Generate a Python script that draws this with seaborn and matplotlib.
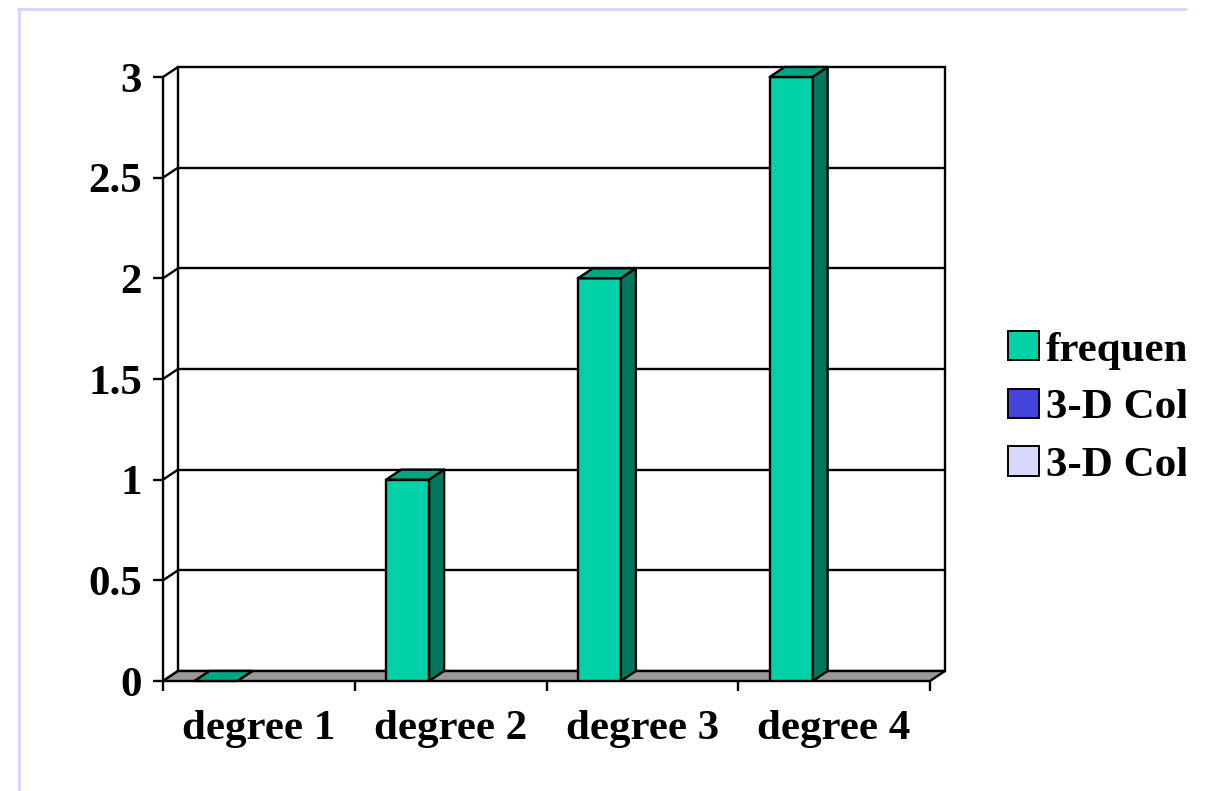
import numpy as np
import pandas as pd
import seaborn as sns
import matplotlib
matplotlib.use("Agg")
import matplotlib.pyplot as plt
from matplotlib.patches import Polygon, Rectangle, Patch
from matplotlib.lines import Line2D
from matplotlib.transforms import Bbox, TransformedBbox

# ---- data -------------------------------------------------------------
categories = ["degree 1", "degree 2", "degree 3", "degree 4"]
series_names = ["frequency", "3-D Column 2", "3-D Column 3"]
frequency = [0, 1, 2, 3]
y_ticks = [0, 0.5, 1, 1.5, 2, 2.5, 3]
y_tick_labels = ["0", "0.5", "1", "1.5", "2", "2.5", "3"]

# ---- style ------------------------------------------------------------
front_colors = ["#00D1A7", "#4444DD", "#D9D9FF"]
top_color = "#00A584"
side_color = "#00775D"
floor_color = "#999999"
frame_color = "#D6D6FA"
LW = 1.7

sns.set_style("white")
plt.rcParams["font.family"] = ["Liberation Serif", "DejaVu Serif"]
plt.rcParams["font.weight"] = "bold"
plt.rcParams["text.color"] = "black"
plt.rcParams["xtick.color"] = "black"
plt.rcParams["ytick.color"] = "black"
FS = 31

W, H = 1209, 791
fig = plt.figure(figsize=(W / 100, H / 100), dpi=100)
fig.patch.set_facecolor("white")
ax = fig.add_axes([163 / W, 1 - 681 / H, 767 / W, 604 / H])
ax.patch.set_alpha(0)

df = pd.DataFrame({"degree": categories, "value": frequency,
                   "series": series_names[0]})
sns.barplot(data=df, x="degree", y="value", hue="series",
            order=categories, hue_order=series_names,
            palette=dict(zip(series_names, front_colors)), saturation=1,
            width=129 / 191.75, dodge=True, errorbar=None,
            edgecolor="black", linewidth=LW, legend=False, ax=ax, zorder=3)

ax.set_xlim(-0.5, 3.5)
ax.set_ylim(0, 3)
ax.set_xlabel("")
ax.set_ylabel("")

# depth of the 3-D box, expressed in data units
DX = 15 / (767 / 4)
DY = 10 / (604 / 3)
x_lo, x_hi = -0.5, 3.5

# side faces and tops of the columns
bars = [p for p in ax.patches if np.isfinite(p.get_height())]
for p in bars:
    x0, w, h = p.get_x(), p.get_width(), p.get_height()
    top = Polygon([(x0, h), (x0 + w, h), (x0 + w + DX, h + DY), (x0 + DX, h + DY)],
                  closed=True, facecolor=top_color, edgecolor="black",
                  linewidth=LW, zorder=3, clip_on=False, joinstyle="round")
    side = Polygon([(x0 + w, 0), (x0 + w + DX, DY), (x0 + w + DX, h + DY), (x0 + w, h)],
                   closed=True, facecolor=side_color, edgecolor="black",
                   linewidth=LW, zorder=3, clip_on=False, joinstyle="round")
    ax.add_patch(top)
    ax.add_patch(side)

# back wall
ax.add_patch(Rectangle((x_lo + DX, DY), x_hi - x_lo, 3, facecolor="white",
                       edgecolor="black", linewidth=LW, zorder=0.5, clip_on=False))
# gridlines on the back wall
for v in y_ticks[1:-1]:
    ax.plot([x_lo + DX, x_hi + DX], [v + DY, v + DY], color="black",
            linewidth=LW, zorder=0.6, clip_on=False)
# gridline returns on the side wall
for v in y_ticks:
    ax.plot([x_lo, x_lo + DX], [v, v + DY], color="black",
            linewidth=LW, zorder=0.6, clip_on=False, solid_capstyle="round")
# floor
ax.add_patch(Polygon([(x_lo, 0), (x_hi, 0), (x_hi + DX, DY), (x_lo + DX, DY)],
                     closed=True, facecolor=floor_color, edgecolor="black",
                     linewidth=LW, zorder=1, clip_on=False))

# axes lines and ticks
for s in ["top", "right", "bottom"]:
    ax.spines[s].set_visible(False)
ax.spines["left"].set_linewidth(LW)
ax.spines["left"].set_color("black")
ax.spines["left"].set_zorder(2)

ax.set_yticks(y_ticks, y_tick_labels)
ax.tick_params(axis="y", length=7.2, width=LW, pad=8, labelsize=FS, left=True)
ax.set_xticks(range(len(categories)), categories)
ax.set_xticks([x_lo + i for i in range(len(categories) + 1)], minor=True)
ax.tick_params(axis="x", which="major", length=0, pad=21, labelsize=FS)
ax.tick_params(axis="x", which="minor", length=7.2, width=LW, bottom=True)
for t in ax.get_xticklabels() + ax.get_yticklabels():
    t.set_fontweight("bold")
    t.set_color("black")

# legend
handles = [Patch(facecolor=c, edgecolor="black", linewidth=1.4) for c in front_colors]
leg = fig.legend(handles, series_names, loc="center left",
                 bbox_to_anchor=(1008 / W, 1 - 408 / H), frameon=False,
                 prop={"size": FS, "weight": "bold"}, handlelength=0.72,
                 handleheight=0.68, handletextpad=0.16, labelspacing=0.44,
                 borderaxespad=0, borderpad=0)
clip = TransformedBbox(Bbox.from_extents(0, 0, 1186 / W, 1), fig.transFigure)
for t in leg.get_texts():
    t.set_color("black")
    t.set_clip_box(clip)
    t.set_clip_on(True)

# page frame
fig.add_artist(Line2D([18 / W, 1186 / W], [1 - 8.7 / H] * 2, color=frame_color,
                      linewidth=2.0))
fig.add_artist(Line2D([19 / W] * 2, [1 - 8.7 / H, 0], color=frame_color,
                      linewidth=2.2))

fig.savefig("out.png", dpi=100)
